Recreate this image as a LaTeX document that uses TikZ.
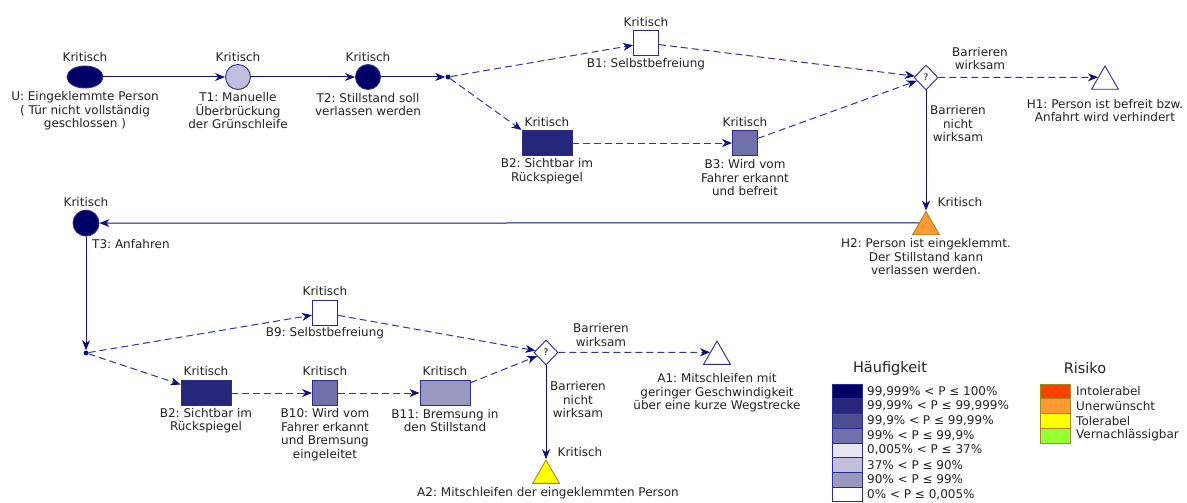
\documentclass[tikz,border=0pt]{standalone}
\usepackage{fontspec}
\setmainfont{DejaVu Sans}
\usetikzlibrary{shapes.geometric,arrows.meta,calc}
\frenchspacing
\definecolor{txt}{HTML}{222222}
\definecolor{edge}{HTML}{2B2B8F}
\definecolor{solidc}{HTML}{10107A}
\definecolor{dashc}{HTML}{33339A}
\definecolor{pA}{HTML}{000066}
\definecolor{pB}{HTML}{26267A}
\definecolor{pC}{HTML}{4D4D8F}
\definecolor{pD}{HTML}{7070AA}
\definecolor{pE}{HTML}{E6E6F0}
\definecolor{pF}{HTML}{C0C0DC}
\definecolor{pG}{HTML}{9898C0}
\definecolor{rA}{HTML}{FF4000}
\definecolor{rB}{HTML}{FF9933}
\definecolor{rC}{HTML}{FFFF00}
\definecolor{rD}{HTML}{99FF33}
\definecolor{olive}{HTML}{A08A20}
\tikzset{
  ev/.style={draw=edge, line width=0.9pt, inner sep=0pt},
  circ/.style={ev, circle, minimum size=25pt},
  sq/.style={ev, rectangle, minimum width=25pt, minimum height=25pt},
  wide/.style={ev, rectangle, minimum width=50pt, minimum height=25pt},
  tri/.style={ev, regular polygon, regular polygon sides=3, minimum size=31pt},
  gate/.style={ev, diamond, minimum width=24pt, minimum height=25pt, font=\fontsize{9}{10}\selectfont},
  junc/.style={circle, fill=solidc, inner sep=0pt, minimum size=5pt},
  lab/.style={align=center, text=txt, inner sep=0pt},
  sarr/.style={draw=solidc, line width=1pt, -{Stealth[length=10pt,width=8pt,inset=3pt]}},
  darr/.style={draw=dashc, line width=1pt, dash pattern=on 7pt off 4pt, -{Stealth[length=10pt,width=8pt,inset=3pt,solidc]}},
  legbox/.style={draw=edge, line width=0.6pt, minimum width=30pt, minimum height=14.7pt, inner sep=0pt},
  riskbox/.style={draw=olive, line width=0.6pt, minimum width=30pt, minimum height=14.7pt, inner sep=0pt},
  legtxt/.style={text=txt, anchor=west, inner sep=0pt},
  legtitle/.style={text=txt, font=\fontsize{14.5}{16}\selectfont}
}
\begin{document}
\begin{tikzpicture}[x=1pt,y=-1pt,font=\fontsize{12}{13.5}\selectfont]
\useasboundingbox (0,0) rectangle (1187,503);
% top row
\node[ev, ellipse, minimum width=36pt, minimum height=22pt, fill=pA] (U) at (85,77) {};
\node[lab] (Uk) at (85,57) {Kritisch};
\node[lab] (Ut) at (85,111) {U: Eingeklemmte Person\\( Tür nicht vollständig\\geschlossen )};
\node[circ, fill=pF] (T1) at (238,77) {};
\node[lab] (T1k) at (238,57) {Kritisch};
\node[lab] (T1t) at (238,111) {T1: Manuelle\\Überbrückung\\der Grünschleife};
\node[circ, fill=pA] (T2) at (368,77) {};
\node[lab] (T2k) at (368,57) {Kritisch};
\node[lab] (T2t) at (368,104.5) {T2: Stillstand soll\\verlassen werden};
\node[junc] (J1) at (448,77) {};
\node[sq, fill=white] (B1) at (646,43) {};
\node[lab] (B1k) at (646,22) {Kritisch};
\node[lab] (B1t) at (646,64) {B1: Selbstbefreiung};
\node[wide, fill=pB] (B2) at (547,143) {};
\node[lab] (B2k) at (547,122) {Kritisch};
\node[lab] (B2t) at (547,171) {B2: Sichtbar im\\Rückspiegel};
\node[sq, fill=pD] (B3) at (745,143) {};
\node[lab] (B3k) at (745,122) {Kritisch};
\node[lab] (B3t) at (745,178) {B3: Wird vom\\Fahrer erkannt\\und befreit};
\node[gate] (Q1) at (926,77.5) {?};
\node[lab] (Q1w) at (980,58.5) {Barrieren\\wirksam};
\node[lab] (Q1n) at (958,124) {Barrieren\\nicht\\wirksam};
\node[tri, fill=white] (H1) at (1105,81.5) {};
\coordinate (H1in) at ($(H1.corner 1)!0.495!(H1.corner 2)$);
\node[lab] (H1t) at (1105,110.5) {H1: Person ist befreit bzw.\\Anfahrt wird verhindert};
\node[tri, fill=rB, draw=olive] (H2) at (926,227) {};
\node[lab] (H2k) at (960,202) {Kritisch};
\node[lab] (H2t) at (926,257) {H2: Person ist eingeklemmt.\\Der Stillstand kann\\verlassen werden.};
\coordinate (H2in) at ($(H2.corner 1)!0.5!(H2.corner 2)$);
% second part
\node[circ, fill=pA, minimum size=26pt] (T3) at (86,223.1) {};
\node[lab] (T3k) at (86,202) {Kritisch};
\node[lab, anchor=west] (T3t) at (92,244) {T3: Anfahren};
\node[junc] (J2) at (86,353) {};
\node[sq, fill=white] (B9) at (325,313) {};
\node[lab] (B9k) at (325,291) {Kritisch};
\node[lab] (B9t) at (325,333) {B9: Selbstbefreiung};
\node[wide, fill=pB] (B2b) at (206,393) {};
\node[lab] (B2bk) at (206,371) {Kritisch};
\node[lab] (B2bt) at (206,420.5) {B2: Sichtbar im\\Rückspiegel};
\node[sq, fill=pD] (B10) at (325,393) {};
\node[lab] (B10k) at (325,371) {Kritisch};
\node[lab] (B10t) at (325,434.5) {B10: Wird vom\\Fahrer erkannt\\und Bremsung\\eingeleitet};
\node[wide, fill=pG] (B11) at (445,393) {};
\node[lab] (B11k) at (445,371) {Kritisch};
\node[lab] (B11t) at (445,420.5) {B11: Bremsung in\\den Stillstand};
\node[gate] (Q2) at (546,352.5) {?};
\node[lab] (Q2w) at (601,335) {Barrieren\\wirksam};
\node[lab] (Q2n) at (578,400) {Barrieren\\nicht\\wirksam};
\node[tri, fill=white] (A1) at (717,356.6) {};
\coordinate (A1in) at ($(A1.corner 1)!0.49!(A1.corner 2)$);
\node[lab] (A1t) at (717,393) {A1: Mitschleifen mit\\geringer Geschwindigkeit\\über eine kurze Wegstrecke};
\node[tri, fill=rC, draw=olive] (A2) at (546,475.6) {};
\node[lab] (A2k) at (580,452) {Kritisch};
\node[lab] (A2t) at (548,493) {A2: Mitschleifen der eingeklemmten Person};
% connectors
\draw[sarr] (U) -- (T1);
\draw[sarr] (T1) -- (T2);
\draw[sarr] (T2) -- (J1);
\draw[darr] (J1) -- (B1);
\draw[darr] (J1) -- (B2.north west);
\draw[darr] (B2) -- (B3);
\draw[darr] (B1) -- (Q1);
\draw[darr] (B3) -- (Q1);
\draw[darr] (Q1) -- (H1in);
\draw[sarr] (Q1) -- (H2);
\draw[sarr] (H2in) -- (T3);
\draw[sarr] (T3) -- (J2);
\draw[darr] (J2) -- (B9);
\draw[darr] (J2) -- (B2b);
\draw[darr] (B2b) -- (B10);
\draw[darr] (B10) -- (B11);
\draw[darr] (B9) -- (Q2);
\draw[darr] (B11) -- (Q2);
\draw[darr] (Q2) -- (A1in);
\draw[sarr] (Q2) -- (A2);
% legend
\node[legtitle] (hl) at (890,368) {Häufigkeit};
\foreach \c/\t [count=\i] in {pA/{99,999\% < P ≤ 100\%},pB/{99,99\% < P ≤ 99,999\%},pC/{99,9\% < P ≤ 99,99\%},pD/{99\% < P ≤ 99,9\%},pE/{0,005\% < P ≤ 37\%},pF/{37\% < P ≤ 90\%},pG/{90\% < P ≤ 99\%},white/{0\% < P ≤ 0,005\%}}{
  \node[legbox, fill=\c] (lb\i) at (847,376.7+14.7*\i) {};
  \node[legtxt] (lt\i) at (867,376.7+14.7*\i) {\t};
}
\node[legtitle] (rl) at (1085,368) {Risiko};
\foreach \c/\t [count=\i] in {rA/Intolerabel,rB/Unerwünscht,rC/Tolerabel,rD/Vernachlässigbar}{
  \node[riskbox, fill=\c] (rb\i) at (1055,376.7+14.7*\i) {};
  \node[legtxt] (rt\i) at (1076,376.7+14.7*\i) {\t};
}
\end{tikzpicture}
\end{document}
